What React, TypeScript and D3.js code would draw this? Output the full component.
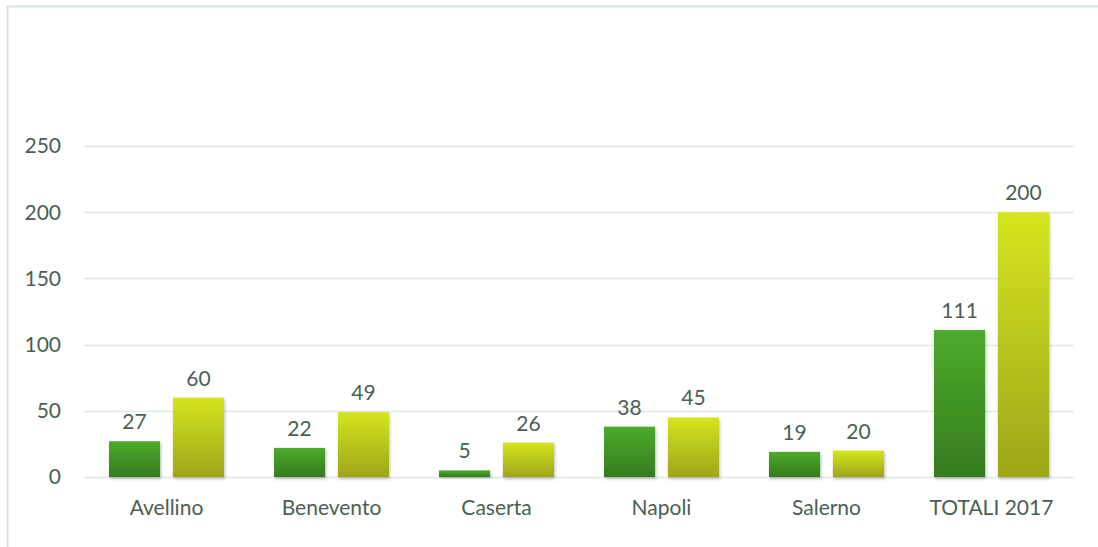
import React, { useRef, useEffect } from 'react';
import * as d3 from 'd3';

const categories = ['Avellino', 'Benevento', 'Caserta', 'Napoli', 'Salerno', 'TOTALI 2017'];
const series1 = [27, 22, 5, 38, 19, 111];
const series2 = [60, 49, 26, 45, 20, 200];
const yTicks = [0, 50, 100, 150, 200, 250];

function App() {
  const ref = useRef<SVGSVGElement>(null);

  useEffect(() => {
    const width = 1098;
    const height = 547;
    const marginLeft = 84;
    const marginRight = 24;
    const y0 = 477;
    const y250 = 146;
    const font = 'Lato, Calibri, "Open Sans", sans-serif';
    const textColor = '#4b5f53';
    const fontSize = 21;

    const svg = d3.select(ref.current);
    svg.selectAll('*').remove();

    const defs = svg.append('defs');
    const addGrad = (id: string, top: string, bottom: string) => {
      const g = defs.append('linearGradient').attr('id', id)
        .attr('x1', 0).attr('y1', 0).attr('x2', 0).attr('y2', 1);
      g.append('stop').attr('offset', '0%').attr('stop-color', top);
      g.append('stop').attr('offset', '100%').attr('stop-color', bottom);
    };
    addGrad('gGreen', '#4cab2b', '#357c1e');
    addGrad('gYellow', '#d5e51e', '#9da619');
    defs.append('filter').attr('id', 'shadow')
      .attr('x', '-10%').attr('y', '-10%').attr('width', '130%').attr('height', '130%')
      .append('feDropShadow')
      .attr('dx', 1).attr('dy', 2).attr('stdDeviation', 1.5)
      .attr('flood-color', '#000').attr('flood-opacity', 0.25);

    // frame
    svg.append('path')
      .attr('d', `M7.5,${height} V6.5 H${width}`)
      .attr('fill', 'none').attr('stroke', '#dbe5e2').attr('stroke-width', 2);

    const x = d3.scaleBand<string>()
      .domain(categories)
      .range([marginLeft, width - marginRight]);
    const x1 = d3.scaleBand<number>()
      .domain([0, 1])
      .range([25, x.bandwidth() - 25])
      .paddingInner(0.2);
    const y = d3.scaleLinear().domain([0, 250]).range([y0, y250]);

    // grid
    svg.append('g').selectAll('line').data(yTicks).join('line')
      .attr('x1', marginLeft).attr('x2', width - marginRight)
      .attr('y1', d => Math.round(y(d)) + 0.5).attr('y2', d => Math.round(y(d)) + 0.5)
      .attr('stroke', '#e0e7e4').attr('stroke-width', 1.5);

    svg.append('g').selectAll('text').data(yTicks).join('text')
      .attr('x', 61).attr('y', d => y(d))
      .attr('dy', '0.35em')
      .attr('text-anchor', 'end')
      .attr('font-family', font).attr('font-size', fontSize)
      .attr('fill', textColor)
      .text(d => d);

    const groups = svg.append('g').selectAll('g').data(categories).join('g')
      .attr('transform', d => `translate(${x(d)},0)`);

    const seriesList = [series1, series2];
    const fills = ['url(#gGreen)', 'url(#gYellow)'];
    seriesList.forEach((vals, s) => {
      groups.append('rect')
        .attr('x', x1(s)!)
        .attr('width', x1.bandwidth())
        .attr('y', (_, i) => y(vals[i]))
        .attr('height', (_, i) => y0 - y(vals[i]))
        .attr('fill', fills[s])
        .attr('filter', 'url(#shadow)');
      groups.append('text')
        .attr('x', x1(s)! + x1.bandwidth() / 2)
        .attr('y', (_, i) => y(vals[i]) - 12)
        .attr('text-anchor', 'middle')
        .attr('font-family', font).attr('font-size', fontSize)
        .attr('fill', textColor)
        .text((_, i) => vals[i]);
    });

    groups.append('text')
      .attr('x', x.bandwidth() / 2)
      .attr('y', 515)
      .attr('text-anchor', 'middle')
      .attr('font-family', font).attr('font-size', fontSize)
      .attr('fill', textColor)
      .text(d => d);
  }, []);

  return (
    <svg ref={ref} width={1098} height={547}
      style={{ position: 'absolute', left: 0, top: 0, background: '#fff' }} />
  );
}

export default App;
